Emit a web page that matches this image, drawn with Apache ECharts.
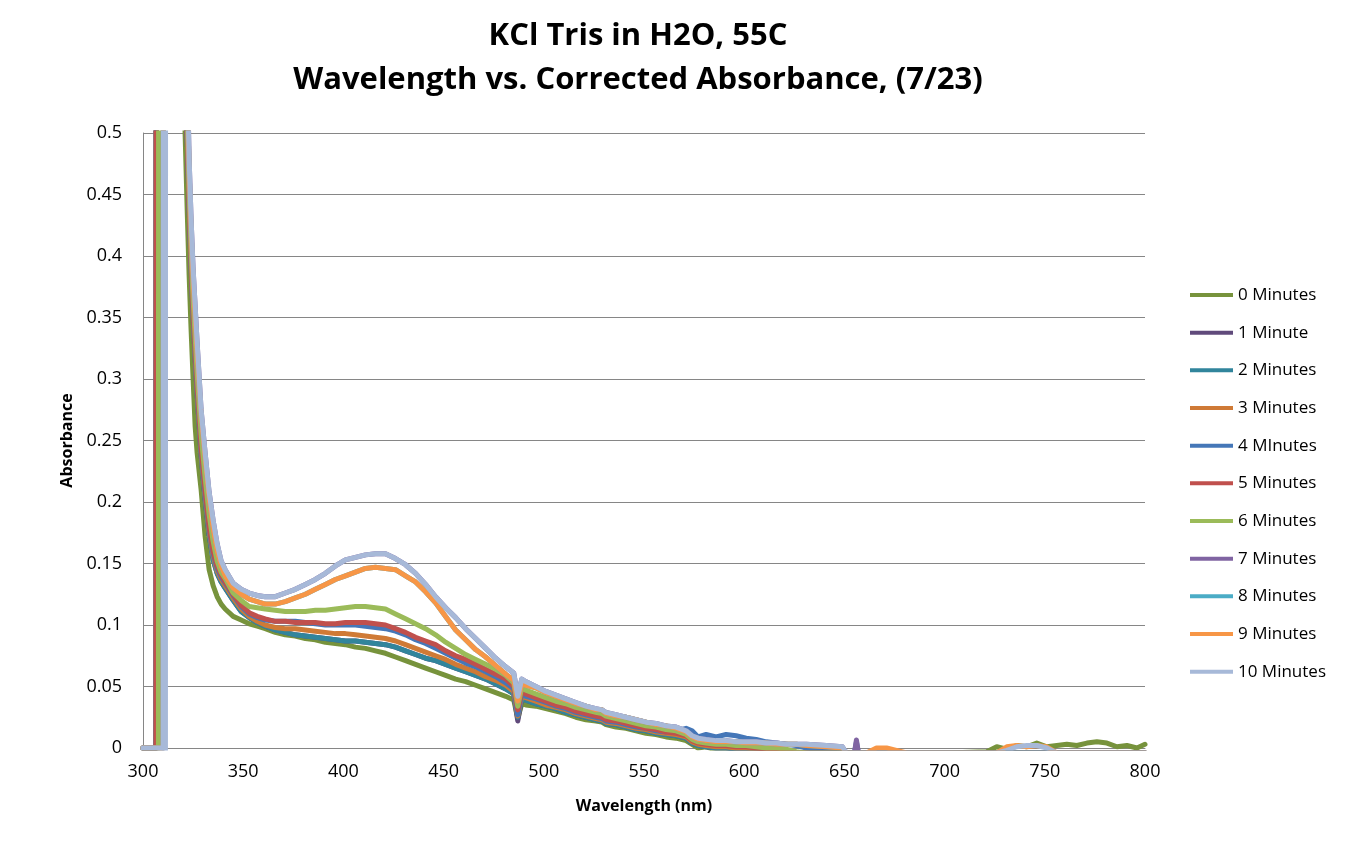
<!DOCTYPE html>
<html>
<head>
<meta charset="utf-8">
<script src="https://cdn.jsdelivr.net/npm/echarts@6/dist/echarts.min.js"></script>
<style>
html,body{margin:0;padding:0;background:#fff;}
#chart{width:1352px;height:855px;}
</style>
</head>
<body>
<div id="chart"></div>
<script>
// Wavelength sample points (nm)
const wavelengths = [
  300, 305, 306.5, 306.9, 307.7, 308.1, 310.1, 310.5, 310.9, 311.3, 311.5, 311.9, 315,
  319, 320, 321, 322, 323, 324, 325, 326, 327, 329, 331, 333, 335, 337, 339,
  341, 345, 349, 353, 357, 361,
  366, 371, 376, 381, 386, 391, 396, 401, 406, 411, 416, 421, 426, 431, 436, 441, 446, 451, 456, 461, 466, 471, 476, 481,
  485, 487, 489, 491,
  496, 501, 506, 511, 516, 521, 526,
  529, 531,
  536, 541, 546, 551, 556, 561, 566, 571,
  574, 577,
  581, 586, 591, 596, 601, 606, 611, 616, 621, 626, 631,
  641, 649, 651, 655, 656, 657, 661, 666, 671, 681, 701,
  721, 726, 731, 736, 741, 746, 751, 756, 761, 766, 771, 776, 781, 786, 791, 796, 800
];

const abs0 = [
  0, 0, 0, 3, 3, 3, 3, 3, 3, 3, 3, 3, 3,
  0.75, 0.6, 0.5, 0.44, 0.385, 0.34, 0.3, 0.262, 0.24, 0.21, 0.172, 0.145, 0.132, 0.123, 0.117,
  0.113, 0.107, 0.104, 0.101, 0.099, 0.097,
  0.094, 0.092, 0.091, 0.089, 0.088, 0.086, 0.085, 0.084, 0.082, 0.081, 0.079, 0.077, 0.074, 0.071, 0.068, 0.065, 0.062, 0.059, 0.056, 0.054, 0.051, 0.048, 0.045, 0.042,
  0.039, 0.024, 0.036, 0.035,
  0.034, 0.032, 0.030, 0.028, 0.025, 0.023, 0.022,
  0.021, 0.019,
  0.017, 0.016, 0.014, 0.012, 0.011, 0.009, 0.008, 0.006,
  0.003, 0.000,
  0.001, -0.002, -0.003, -0.004, -0.004, -0.004, -0.004, -0.004, -0.004, -0.004, -0.004,
  -0.004, -0.004, -0.004, -0.004, -0.004, -0.004, -0.004, -0.004, -0.004, -0.004, -0.004,
  -0.003, 0.001, -0.001, 0.002, 0.001, 0.004, 0.001, 0.002, 0.003, 0.002, 0.004, 0.005, 0.004, 0.001, 0.002, 0.000, 0.003
];

const abs1 = [
  0, 0, 0, 3, 3, 3, 3, 3, 3, 3, 3, 3, 3,
  0.95, 0.75, 0.6, 0.5, 0.44, 0.39, 0.35, 0.318, 0.288, 0.238, 0.202, 0.173, 0.153, 0.142, 0.135,
  0.130, 0.120, 0.111, 0.106, 0.102, 0.099,
  0.096, 0.094, 0.092, 0.091, 0.090, 0.089, 0.088, 0.087, 0.087, 0.086, 0.085, 0.084, 0.082, 0.079, 0.076, 0.073, 0.071, 0.068, 0.065, 0.062, 0.059, 0.056, 0.052, 0.048,
  0.044, 0.022, 0.040, 0.039,
  0.036, 0.034, 0.032, 0.029, 0.027, 0.025, 0.023,
  0.022, 0.020,
  0.019, 0.017, 0.015, 0.014, 0.012, 0.011, 0.010, 0.008,
  0.004, 0.002,
  0.001, 0.000, 0.000, -0.001, -0.002, -0.003, -0.004, -0.004, -0.004, -0.004, -0.004,
  -0.004, -0.004, -0.004, -0.004, -0.004, -0.004, -0.004, -0.004, -0.004, -0.004, -0.004,
  -0.004, -0.004, -0.004, -0.004, -0.004, -0.004, -0.004, -0.004, -0.004, -0.004, -0.004, -0.004, -0.004, -0.004, -0.004, -0.004, -0.004
];

const abs2 = [
  0, 0, 0, 3, 3, 3, 3, 3, 3, 3, 3, 3, 3,
  0.95, 0.75, 0.6, 0.5, 0.44, 0.39, 0.35, 0.318, 0.288, 0.238, 0.202, 0.173, 0.153, 0.142, 0.135,
  0.130, 0.120, 0.111, 0.106, 0.102, 0.099,
  0.096, 0.094, 0.092, 0.091, 0.090, 0.089, 0.088, 0.087, 0.087, 0.086, 0.085, 0.084, 0.082, 0.079, 0.076, 0.073, 0.071, 0.068, 0.065, 0.062, 0.059, 0.056, 0.052, 0.048,
  0.044, 0.025, 0.040, 0.039,
  0.036, 0.034, 0.032, 0.029, 0.027, 0.025, 0.023,
  0.022, 0.020,
  0.019, 0.017, 0.015, 0.014, 0.012, 0.011, 0.010, 0.008,
  0.004, 0.002,
  0.001, 0.000, 0.000, -0.001, -0.002, -0.003, -0.004, -0.004, -0.004, -0.004, -0.004,
  -0.004, -0.004, -0.004, -0.004, -0.004, -0.004, -0.004, -0.004, -0.004, -0.004, -0.004,
  -0.004, -0.004, -0.004, -0.004, -0.004, -0.004, -0.004, -0.004, -0.004, -0.004, -0.004, -0.004, -0.004, -0.004, -0.004, -0.004, -0.004
];

const abs3 = [
  0, 0, 0, 3, 3, 3, 3, 3, 3, 3, 3, 3, 3,
  0.95, 0.75, 0.6, 0.5, 0.44, 0.39, 0.35, 0.32, 0.29, 0.24, 0.205, 0.176, 0.156, 0.144, 0.137,
  0.132, 0.122, 0.113, 0.107, 0.103, 0.100,
  0.098, 0.097, 0.097, 0.096, 0.095, 0.094, 0.093, 0.093, 0.092, 0.091, 0.090, 0.089, 0.087, 0.084, 0.081, 0.078, 0.075, 0.072, 0.068, 0.065, 0.062, 0.058, 0.055, 0.051,
  0.046, 0.026, 0.042, 0.041,
  0.038, 0.035, 0.033, 0.031, 0.028, 0.026, 0.024,
  0.023, 0.021,
  0.020, 0.018, 0.016, 0.015, 0.013, 0.012, 0.011, 0.009,
  0.005, 0.003,
  0.002, 0.001, 0.001, 0.000, 0.000, -0.001, -0.002, -0.003, -0.004, -0.004, -0.004,
  -0.004, -0.004, -0.004, -0.004, -0.004, -0.004, -0.004, -0.004, -0.004, -0.004, -0.004,
  -0.004, -0.004, -0.004, -0.004, -0.004, -0.004, -0.004, -0.004, -0.004, -0.004, -0.004, -0.004, -0.004, -0.004, -0.004, -0.004, -0.004
];

const abs4 = [
  0, 0, 0, 3, 3, 3, 3, 3, 3, 3, 3, 3, 3,
  0.95, 0.75, 0.6, 0.5, 0.44, 0.393, 0.353, 0.322, 0.292, 0.242, 0.207, 0.178, 0.158, 0.146, 0.139,
  0.134, 0.124, 0.115, 0.109, 0.106, 0.104,
  0.103, 0.103, 0.103, 0.102, 0.101, 0.100, 0.100, 0.100, 0.100, 0.099, 0.098, 0.097, 0.095, 0.092, 0.088, 0.085, 0.081, 0.077, 0.073, 0.069, 0.066, 0.062, 0.058, 0.053,
  0.048, 0.027, 0.044, 0.042,
  0.040, 0.037, 0.034, 0.032, 0.029, 0.027, 0.025,
  0.024, 0.022,
  0.021, 0.019, 0.017, 0.016, 0.014, 0.013, 0.014, 0.016,
  0.014, 0.009,
  0.011, 0.009, 0.011, 0.010, 0.008, 0.007, 0.005, 0.004, 0.003, 0.002, 0.000,
  -0.002, -0.004, -0.004, -0.004, 0.005, -0.004, -0.004, -0.004, -0.004, -0.004, -0.004,
  -0.004, -0.004, -0.004, -0.004, -0.004, -0.004, -0.004, -0.004, -0.004, -0.004, -0.004, -0.004, -0.004, -0.004, -0.004, -0.004, -0.004
];

const abs5 = [
  0, 0, 0, 3, 3, 3, 3, 3, 3, 3, 3, 3, 3,
  0.95, 0.75, 0.6, 0.5, 0.44, 0.395, 0.355, 0.325, 0.295, 0.245, 0.21, 0.18, 0.16, 0.148, 0.141,
  0.135, 0.125, 0.116, 0.110, 0.107, 0.105,
  0.103, 0.103, 0.102, 0.102, 0.102, 0.101, 0.101, 0.102, 0.102, 0.102, 0.101, 0.100, 0.097, 0.094, 0.090, 0.087, 0.084, 0.079, 0.075, 0.072, 0.068, 0.064, 0.060, 0.056,
  0.050, 0.031, 0.046, 0.044,
  0.041, 0.038, 0.035, 0.033, 0.030, 0.028, 0.026,
  0.025, 0.023,
  0.022, 0.020, 0.018, 0.016, 0.015, 0.013, 0.012, 0.010,
  0.006, 0.004,
  0.003, 0.002, 0.002, 0.001, 0.001, 0.000, -0.001, -0.002, -0.003, -0.004, -0.004,
  -0.004, -0.004, -0.004, -0.004, -0.004, -0.004, -0.004, -0.004, -0.004, -0.004, -0.004,
  -0.004, -0.004, -0.004, -0.004, -0.004, -0.004, -0.004, -0.004, -0.004, -0.004, -0.004, -0.004, -0.004, -0.004, -0.004, -0.004, -0.004
];

const abs6 = [
  0, 0, 0, 0, 0, 3, 3, 3, 3, 3, 3, 3, 3,
  1.0, 0.8, 0.63, 0.52, 0.455, 0.405, 0.365, 0.335, 0.305, 0.255, 0.22, 0.19, 0.168, 0.152, 0.143,
  0.138, 0.126, 0.120, 0.115, 0.114, 0.113,
  0.112, 0.111, 0.111, 0.111, 0.112, 0.112, 0.113, 0.114, 0.115, 0.115, 0.114, 0.113, 0.109, 0.105, 0.101, 0.097, 0.092, 0.086, 0.081, 0.076, 0.072, 0.068, 0.064, 0.059,
  0.053, 0.034, 0.049, 0.047,
  0.044, 0.041, 0.038, 0.036, 0.033, 0.031, 0.029,
  0.028, 0.026,
  0.024, 0.022, 0.020, 0.018, 0.017, 0.015, 0.014, 0.011,
  0.007, 0.005,
  0.004, 0.003, 0.003, 0.002, 0.002, 0.001, 0.000, 0.000, -0.001, -0.003, -0.004,
  -0.004, -0.004, -0.004, -0.004, -0.004, -0.004, -0.004, -0.004, -0.004, -0.004, -0.004,
  -0.004, -0.004, -0.004, -0.004, -0.004, -0.004, -0.004, -0.004, -0.004, -0.004, -0.004, -0.004, -0.004, -0.004, -0.004, -0.004, -0.004
];

const abs7 = [
  0, 0, 0, 0, 0, 0, 0, 3, 3, 3, 3, 3, 3,
  1.2, 0.9, 0.7, 0.56, 0.48, 0.43, 0.39, 0.36, 0.33, 0.275, 0.24, 0.208, 0.185, 0.166, 0.152,
  0.145, 0.134, 0.129, 0.126, 0.124, 0.123,
  0.123, 0.126, 0.129, 0.133, 0.137, 0.142, 0.148, 0.153, 0.155, 0.157, 0.158, 0.158, 0.154, 0.149, 0.142, 0.133, 0.123, 0.114, 0.106, 0.097, 0.089, 0.081, 0.073, 0.066,
  0.061, 0.042, 0.056, 0.054,
  0.050, 0.046, 0.043, 0.040, 0.037, 0.034, 0.032,
  0.031, 0.029,
  0.027, 0.025, 0.023, 0.021, 0.020, 0.018, 0.017, 0.014,
  0.010, 0.008,
  0.007, 0.006, 0.006, 0.005, 0.005, 0.005, 0.004, 0.004, 0.003, 0.003, 0.003,
  0.002, 0.001, -0.004, -0.004, 0.0065, -0.004, -0.004, -0.004, -0.004, -0.004, -0.004,
  -0.004, -0.004, -0.004, -0.004, -0.004, -0.004, -0.004, -0.004, -0.004, -0.004, -0.004, -0.004, -0.004, -0.004, -0.004, -0.004, -0.004
];

const abs8 = [
  0, 0, 0, 0, 0, 0, 0, 3, 3, 3, 3, 3, 3,
  1.1, 0.85, 0.66, 0.54, 0.47, 0.42, 0.38, 0.35, 0.32, 0.27, 0.235, 0.203, 0.178, 0.16, 0.148,
  0.140, 0.130, 0.125, 0.121, 0.119, 0.117,
  0.117, 0.119, 0.122, 0.125, 0.129, 0.133, 0.137, 0.140, 0.143, 0.146, 0.147, 0.146, 0.145, 0.140, 0.135, 0.127, 0.118, 0.107, 0.096, 0.088, 0.080, 0.074, 0.067, 0.060,
  0.055, 0.038, 0.052, 0.051,
  0.049, 0.045, 0.042, 0.039, 0.036, 0.034, 0.031,
  0.031, 0.028,
  0.026, 0.025, 0.023, 0.021, 0.019, 0.018, 0.016, 0.013,
  0.009, 0.007,
  0.006, 0.005, 0.005, 0.005, 0.004, 0.004, 0.004, 0.003, 0.003, 0.003, 0.002,
  0.001, 0.000, -0.004, -0.004, -0.004, -0.004, -0.004, -0.004, -0.004, -0.004, -0.004,
  -0.004, -0.004, -0.004, -0.004, -0.004, -0.004, -0.004, -0.004, -0.004, -0.004, -0.004, -0.004, -0.004, -0.004, -0.004, -0.004, -0.004
];

const abs9 = [
  0, 0, 0, 0, 0, 0, 0, 3, 3, 3, 3, 3, 3,
  1.1, 0.85, 0.66, 0.54, 0.47, 0.42, 0.38, 0.35, 0.32, 0.27, 0.235, 0.203, 0.178, 0.16, 0.148,
  0.140, 0.130, 0.125, 0.121, 0.119, 0.117,
  0.117, 0.119, 0.122, 0.125, 0.129, 0.133, 0.137, 0.140, 0.143, 0.146, 0.147, 0.146, 0.145, 0.140, 0.135, 0.127, 0.118, 0.107, 0.096, 0.088, 0.080, 0.074, 0.067, 0.060,
  0.055, 0.038, 0.052, 0.051,
  0.049, 0.045, 0.042, 0.039, 0.036, 0.034, 0.031,
  0.031, 0.028,
  0.026, 0.025, 0.023, 0.021, 0.019, 0.018, 0.016, 0.013,
  0.009, 0.007,
  0.006, 0.005, 0.005, 0.005, 0.004, 0.004, 0.004, 0.003, 0.003, 0.003, 0.002,
  0.001, 0.000, -0.004, -0.004, -0.004, -0.004, -0.004, 0.000, 0.000, -0.004, -0.004,
  -0.004, -0.004, 0.001, 0.002, 0.001, 0.002, 0.001, -0.004, -0.004, -0.004, -0.004, -0.004, -0.004, -0.004, -0.004, -0.004, -0.004
];

const abs10 = [
  0, 0, 0, 0, 0, 0, 0, 3, -3, -3, 3, 3, 3,
  1.2, 0.9, 0.7, 0.56, 0.48, 0.43, 0.39, 0.36, 0.33, 0.275, 0.24, 0.208, 0.185, 0.166, 0.152,
  0.145, 0.134, 0.129, 0.126, 0.124, 0.123,
  0.123, 0.126, 0.129, 0.133, 0.137, 0.142, 0.148, 0.153, 0.155, 0.157, 0.158, 0.158, 0.154, 0.149, 0.142, 0.133, 0.123, 0.114, 0.106, 0.097, 0.089, 0.081, 0.073, 0.066,
  0.061, 0.042, 0.056, 0.054,
  0.050, 0.046, 0.043, 0.040, 0.037, 0.034, 0.032,
  0.031, 0.029,
  0.027, 0.025, 0.023, 0.021, 0.020, 0.018, 0.017, 0.014,
  0.010, 0.008,
  0.007, 0.006, 0.006, 0.005, 0.005, 0.005, 0.004, 0.004, 0.003, 0.003, 0.003,
  0.002, 0.001, -0.004, -0.004, -0.004, -0.004, -0.004, -0.004, -0.004, -0.004, -0.004,
  -0.004, -0.004, -0.002, 0.001, 0.002, 0.002, 0.000, -0.004, -0.004, -0.004, -0.004, -0.004, -0.004, -0.004, -0.004, -0.004, -0.004
];

const seriesNames = ['0 Minutes', '1 Minute', '2 Minutes', '3 Minutes', '4 MInutes', '5 Minutes',
  '6 Minutes', '7 Minutes', '8 Minutes', '9 Minutes', '10 Minutes'];
const seriesValues = [abs0, abs1, abs2, abs3, abs4, abs5, abs6, abs7, abs8, abs9, abs10];
const seriesColors = ['#77933C', '#604A7B', '#31859C', '#CF7A36', '#4577B8', '#C0504D',
  '#9BBB59', '#8064A2', '#4BACC6', '#F79646', '#A7B9D8'];

const titleLines = ['KCl Tris in H2O, 55C', 'Wavelength vs. Corrected Absorbance, (7/23)'];
const xAxisName = 'Wavelength (nm)';
const yAxisName = 'Absorbance';

const FONT = '"Open Sans", "Liberation Sans", sans-serif';

const chart = echarts.init(document.getElementById('chart'));

const series = seriesNames.map((name, k) => ({
  name: name,
  type: 'line',
  data: wavelengths.map((w, i) => [w, seriesValues[k][i]]),
  showSymbol: false,
  symbol: 'none',
  clip: true,
  color: seriesColors[k],
  lineStyle: { width: 5, color: seriesColors[k], join: 'round', cap: 'round' },
  emphasis: { disabled: true },
  animation: false
}));

chart.setOption({
  animation: false,
  backgroundColor: '#ffffff',
  graphic: [
    { type: 'text', x: 638, y: 36, style: { text: titleLines[0], fill: '#000', font: 'bold 31px ' + FONT, textAlign: 'center', textVerticalAlign: 'middle' } },
    { type: 'text', x: 638, y: 80, style: { text: titleLines[1], fill: '#000', font: 'bold 31px ' + FONT, textAlign: 'center', textVerticalAlign: 'middle' } }
  ],
  grid: { left: 143, right: 207, top: 133, bottom: 107, containLabel: false },
  legend: {
    orient: 'vertical',
    left: 1190,
    top: 284,
    padding: 0,
    icon: 'rect',
    itemWidth: 43,
    itemHeight: 4,
    itemGap: 15.67,
    selectedMode: false,
    textStyle: { fontFamily: FONT, fontSize: 17, color: '#000', lineHeight: 22 },
    data: seriesNames
  },
  xAxis: {
    type: 'value',
    min: 300,
    max: 800,
    interval: 50,
    name: xAxisName,
    nameLocation: 'middle',
    nameGap: 50,
    nameTextStyle: { fontFamily: FONT, fontSize: 16, fontWeight: 'bold', color: '#000' },
    axisLine: { show: true, lineStyle: { color: '#868686', width: 1 } },
    axisTick: { show: false },
    axisLabel: { fontFamily: FONT, fontSize: 18, color: '#000', margin: 15 },
    splitLine: { show: false }
  },
  yAxis: {
    type: 'value',
    min: 0,
    max: 0.5,
    interval: 0.05,
    name: yAxisName,
    nameLocation: 'middle',
    nameGap: 66,
    nameRotate: 90,
    nameTextStyle: { fontFamily: FONT, fontSize: 16, fontWeight: 'bold', color: '#000' },
    axisLine: { show: true, lineStyle: { color: '#868686', width: 1 } },
    axisTick: { show: false },
    axisLabel: { fontFamily: FONT, fontSize: 18, color: '#000', margin: 21 },
    splitLine: { show: true, lineStyle: { color: '#868686', width: 1 } }
  },
  series: series
});
</script>
</body>
</html>
